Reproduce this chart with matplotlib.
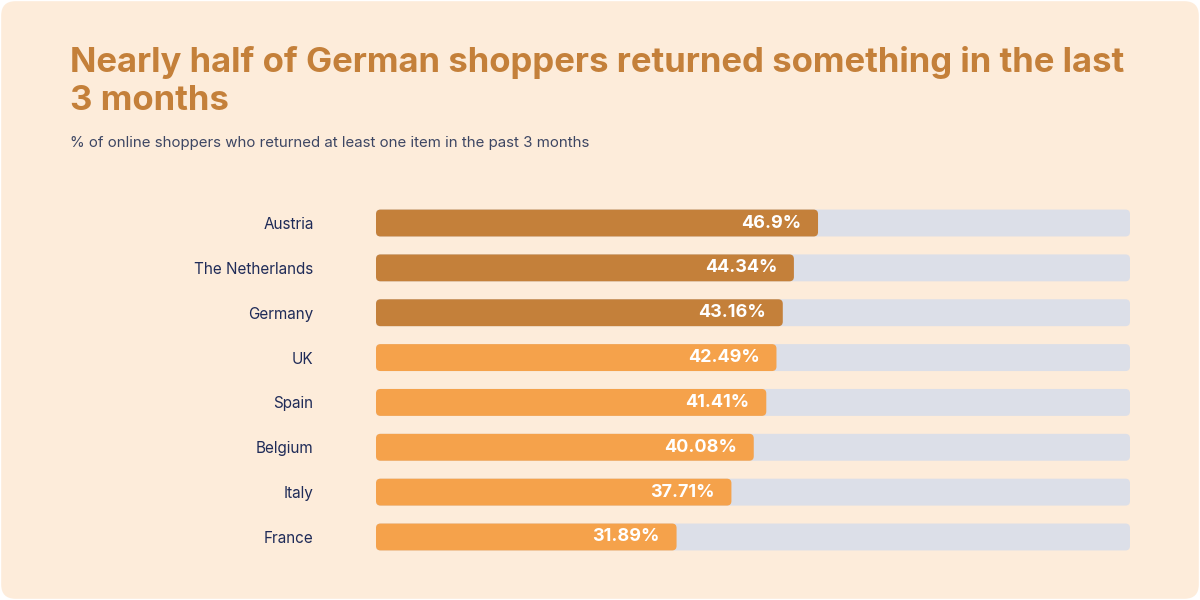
import matplotlib.pyplot as plt
from matplotlib.patches import FancyBboxPatch

countries = ["Austria", "The Netherlands", "Germany", "UK", "Spain",
             "Belgium", "Italy", "France"]
shares = [46.9, 44.34, 43.16, 42.49, 41.41, 40.08, 37.71, 31.89]
highlight = [True, True, True, False, False, False, False, False]

title = "Nearly half of German shoppers returned something in the last\n3 months"
subtitle = "% of online shoppers who returned at least one item in the past 3 months"

BG = "#FDECDA"
DARK = "#C4803A"
LIGHT = "#F5A24B"
TRACK = "#DCDFE8"
NAVY = "#1F2B58"
TRACK_MAX = 80

plt.rcParams['font.family'] = ['Inter', 'DejaVu Sans']

fig = plt.figure(figsize=(12, 6), dpi=100)
fig.patch.set_facecolor("white")
card = FancyBboxPatch((0.001, 0.002), 0.998, 0.996, transform=fig.transFigure,
                      boxstyle="round,pad=0,rounding_size=0.012",
                      mutation_aspect=2, facecolor=BG, edgecolor="none",
                      zorder=-10)
fig.patches.append(card)

fig.text(70 / 1200, 1 - 46 / 600, title, fontsize=25, fontweight="bold",
         color=DARK, va="top", ha="left", linespacing=1.22)
fig.text(70 / 1200, 1 - 147 / 600, subtitle, fontsize=10.8, color="#3D4663",
         va="baseline", ha="left")

ax = fig.add_axes([376 / 1200, 1 - 559.4 / 600, 754 / 1200, 358.8 / 600])
ax.set_facecolor("none")
ax.set_xlim(0, TRACK_MAX)
ax.set_ylim(len(countries) - 0.5, -0.5)

h = 0.6
# px -> data ratio so corners stay round
x_per_px = TRACK_MAX / 754
y_per_px = len(countries) / 358.8
aspect = y_per_px / x_per_px
r = 4.5 * x_per_px

for i, (v, hl) in enumerate(zip(shares, highlight)):
    ax.add_patch(FancyBboxPatch((0, i - h / 2), TRACK_MAX, h,
                                boxstyle=f"round,pad=0,rounding_size={r}",
                                mutation_aspect=aspect, facecolor=TRACK,
                                edgecolor="none"))
    ax.add_patch(FancyBboxPatch((0, i - h / 2), v, h,
                                boxstyle=f"round,pad=0,rounding_size={r}",
                                mutation_aspect=aspect,
                                facecolor=DARK if hl else LIGHT,
                                edgecolor="none"))
    ax.annotate(f"{v:g}%", (v, i), xytext=(-12, 0), textcoords="offset points",
                ha="right", va="center", color="white", fontsize=13,
                fontweight="bold")

ax.set_yticks(range(len(countries)))
ax.set_yticklabels(countries, fontsize=11, color=NAVY)
ax.tick_params(axis="y", length=0, pad=45)
ax.set_xticks([])
for s in ax.spines.values():
    s.set_visible(False)

fig.savefig("out.png", dpi=100, facecolor=fig.get_facecolor())
